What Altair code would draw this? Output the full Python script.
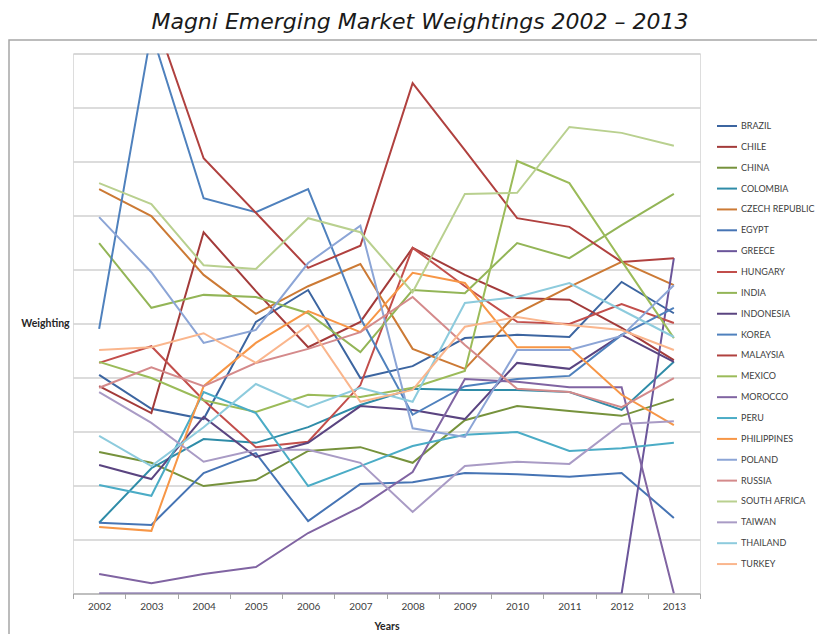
import altair as alt
import pandas as pd

years = [2002, 2003, 2004, 2005, 2006, 2007, 2008, 2009, 2010, 2011, 2012, 2013]

countries = ["BRAZIL", "CHILE", "CHINA", "COLOMBIA", "CZECH REPUBLIC", "EGYPT",
             "GREECE", "HUNGARY", "INDIA", "INDONESIA", "KOREA", "MALAYSIA",
             "MEXICO", "MOROCCO", "PERU", "PHILIPPINES", "POLAND", "RUSSIA",
             "SOUTH AFRICA", "TAIWAN", "THAILAND", "TURKEY"]

colors = ["#3C65A0", "#A33B3A", "#76923C", "#2F8CA8", "#CC7A35", "#4674B4",
          "#6B559A", "#C24E4B", "#93B557", "#5A4480", "#4F81BD", "#B0413F",
          "#9BBB59", "#8064A2", "#4BACC6", "#F79646", "#8CA5D6", "#D48A8B",
          "#B9D08F", "#A99BC5", "#8DCBDD", "#FAB68D"]

brazil       = [4.05, 3.42, 3.23, 5.03, 5.62, 3.99, 4.21, 4.73, 4.79, 4.75, 5.77, 5.19]
chile        = [3.84, 3.34, 6.69, 5.60, 4.56, 5.03, 6.40, 5.90, 5.47, 5.44, 4.92, 4.32]
china        = [2.62, 2.42, 1.99, 2.10, 2.64, 2.71, 2.42, 3.21, 3.47, 3.38, 3.29, 3.60]
colombia     = [1.31, 2.32, 2.86, 2.79, 3.08, 3.49, 3.79, 3.77, 3.77, 3.73, 3.40, 4.29]
czech        = [7.49, 6.99, 5.90, 5.18, 5.69, 6.10, 4.53, 4.16, 5.19, 5.68, 6.14, 5.71]
egypt        = [1.31, 1.27, 2.23, 2.60, 1.34, 2.03, 2.06, 2.23, 2.21, 2.16, 2.23, 1.40]
greece       = [0, 0, 0, 0, 0, 0, 0, 0, 0, 0, 0, 6.21]
hungary      = [4.27, 4.58, 3.58, 2.71, 2.81, 3.86, 6.40, 5.69, 5.03, 4.99, 5.36, 5.01]
india        = [6.49, 5.29, 5.53, 5.49, 5.19, 4.47, 5.62, 5.56, 6.49, 6.21, 6.82, 7.40]
indonesia    = [2.38, 2.12, 3.27, 2.53, 2.79, 3.47, 3.40, 3.23, 4.27, 4.16, 4.79, 4.29]
korea        = [4.90, 10.40, 7.32, 7.06, 7.49, 5.10, 3.31, 3.84, 3.97, 4.03, 4.79, 5.29]
malaysia     = [11.00, 10.85, 8.06, 7.05, 6.03, 6.44, 9.45, 8.21, 6.95, 6.79, 6.14, 6.21]
mexico       = [4.29, 3.99, 3.58, 3.36, 3.68, 3.64, 3.81, 4.12, 8.01, 7.60, 6.16, 4.73]
morocco      = [0.36, 0.19, 0.36, 0.49, 1.12, 1.60, 2.25, 3.97, 3.92, 3.82, 3.82, 0]
peru         = [2.01, 1.81, 3.73, 3.34, 1.99, 2.36, 2.73, 2.94, 2.99, 2.64, 2.69, 2.79]
philippines  = [1.23, 1.16, 3.84, 4.64, 5.23, 4.84, 5.94, 5.75, 4.56, 4.56, 3.68, 3.12]
poland       = [6.97, 5.95, 4.64, 4.88, 6.12, 6.81, 3.06, 2.90, 4.51, 4.51, 4.77, 5.71]
russia       = [3.81, 4.19, 3.84, 4.27, 4.53, 4.84, 5.49, 4.60, 3.79, 3.73, 3.45, 3.99]
south_africa = [7.60, 7.21, 6.08, 6.01, 6.95, 6.69, 5.58, 7.40, 7.42, 8.64, 8.53, 8.29]
taiwan       = [3.73, 3.16, 2.44, 2.66, 2.66, 2.42, 1.51, 2.36, 2.44, 2.40, 3.14, 3.19]
thailand     = [2.92, 2.36, 3.08, 3.88, 3.45, 3.81, 3.55, 5.38, 5.49, 5.75, 5.25, 4.75]
turkey       = [4.51, 4.56, 4.82, 4.27, 4.97, 3.55, 3.77, 4.94, 5.12, 4.97, 4.88, 4.51]

series = [brazil, chile, china, colombia, czech, egypt, greece, hungary, india,
          indonesia, korea, malaysia, mexico, morocco, peru, philippines, poland,
          russia, south_africa, taiwan, thailand, turkey]

rows = []
for name, vals in zip(countries, series):
    for yr, v in zip(years, vals):
        rows.append({"year": str(yr), "country": name, "weight": v})
df = pd.DataFrame(rows)

FONT = "Lato"

lines = alt.Chart(df).mark_line(strokeWidth=2, clip=True).encode(
    x=alt.X("year:O",
            scale=alt.Scale(type="band", paddingInner=0, paddingOuter=0),
            bandPosition=0.5,
            axis=alt.Axis(title="Years", labelAngle=0, tickBand="extent",
                          domainColor="#A6A6A6", tickColor="#A6A6A6",
                          tickSize=5, labelPadding=3, labelFont=FONT,
                          labelFontSize=10, labelColor="#404040",
                          titleFont=FONT, titleFontSize=10.5,
                          titleFontWeight="bold", titleColor="#262626",
                          titlePadding=10, grid=False)),
    y=alt.Y("weight:Q",
            scale=alt.Scale(domain=[0, 10], nice=False, zero=True),
            axis=alt.Axis(title="Weighting", values=list(range(0, 11)),
                          labels=False, ticks=False, domain=False, grid=True,
                          gridColor="#D0D0D0", gridWidth=1.5,
                          titleAngle=0, titleX=-28, titleY=270,
                          titleAlign="center", titleBaseline="middle",
                          titleFont=FONT, titleFontSize=10.5,
                          titleFontWeight="bold", titleColor="#262626")),
    color=alt.Color("country:N",
                    scale=alt.Scale(domain=countries, range=colors),
                    sort=countries,
                    legend=alt.Legend(title=None, orient="none",
                                      legendX=643, legendY=61.5,
                                      symbolType="stroke", symbolSize=400,
                                      symbolStrokeWidth=2, rowPadding=4.86,
                                      labelOffset=3, labelFont=FONT,
                                      labelFontSize=9, labelColor="#404040",
                                      padding=0, labelLimit=200,
                                      symbolLimit=30)),
)

frame = alt.Chart(pd.DataFrame({"a": [0]})).mark_rect(
    fillOpacity=0, stroke="#A6A6A6", strokeWidth=1.5, clip=False
).encode(
    x=alt.value(-64), x2=alt.value(780),
    y=alt.value(-13.5), y2=alt.value(640)
)

chart = alt.layer(frame, lines).properties(
    width=627, height=540,
    title=alt.TitleParams(text="Magni Emerging Market Weightings 2002 \u2013 2013",
                          font="DejaVu Sans", fontStyle="italic", fontSize=22,
                          fontWeight="normal", color="#1A1A1A",
                          anchor="middle", frame="group", dx=33.5, offset=5),
    autosize=alt.AutoSizeParams(type="none"),
    padding={"left": 65, "top": 45.5, "right": 117, "bottom": 40},
).configure_view(stroke=None).configure(background="white")

chart.save("out.html", embed_options={"renderer": "svg", "actions": False})
